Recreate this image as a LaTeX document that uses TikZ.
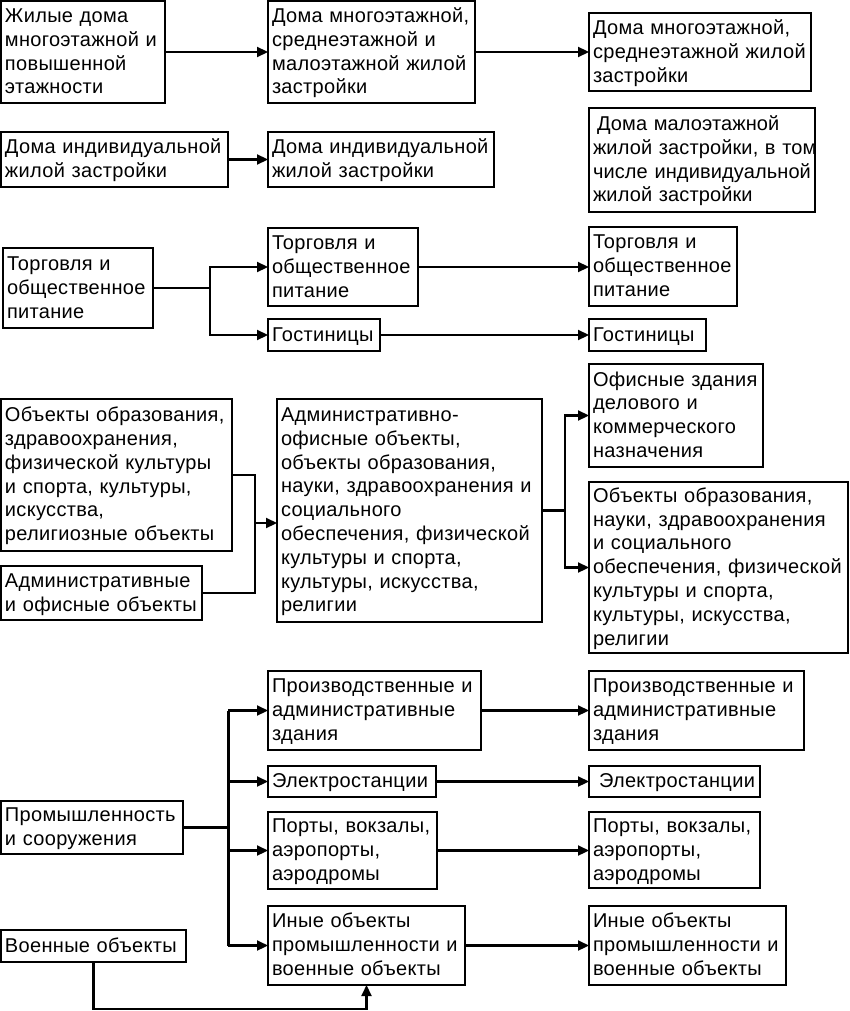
\documentclass[tikz,border=0pt]{standalone}
\usepackage{fontspec}
\setmainfont[LetterSpace=1.6]{Liberation Sans}
\usetikzlibrary{arrows.meta,calc}
\newcommand\tl[1]{\raisebox{-1.5pt}[\height][\depth]{\begin{tabular}{@{}l@{}}#1\end{tabular}}}
\begin{document}
\begin{tikzpicture}[x=1pt,y=-1pt,
  box/.style={draw, line width=2.2pt, anchor=north west, outer sep=0pt, inner xsep=4pt, inner ysep=0pt, align=left,
    font=\fontsize{20}{23.8}\selectfont},
  arr/.style={line width=2.2pt, -{Triangle[length=11pt,width=10pt]}},
  ln/.style={line width=2.2pt}]
\useasboundingbox (0,0) rectangle (849,1011);
% row A
\node[box,text width=156pt,minimum height=102pt] (a1) at (1,1) {\tl{Жилые дома\\многоэтажной и\\повышенной\\этажности}};
\node[box,text width=199pt,minimum height=102pt] (a2) at (268,1) {\tl{Дома многоэтажной,\\среднеэтажной и\\малоэтажной жилой\\застройки}};
\node[box,text width=214pt,minimum height=78pt] (a3) at (589,13) {\tl{Дома многоэтажной,\\среднеэтажной жилой\\застройки}};
% row B
\node[box,text width=219pt,minimum height=55pt] (b1) at (1,132) {\tl{Дома индивидуальной\\жилой застройки}};
\node[box,text width=218pt,minimum height=55pt] (b2) at (268,132) {\tl{Дома индивидуальной\\жилой застройки}};
\node[box,text width=218pt,minimum height=104pt,font=\fontsize{20}{23.8}\selectfont\addfontfeature{LetterSpace=0.6}] (b3) at (589,108) {\tl{\hspace{4pt}Дома малоэтажной\\жилой застройки, в том\\числе индивидуальной\\жилой застройки}};
% row C
\node[box,text width=142pt,minimum height=80pt] (c1) at (3,248) {\tl{Торговля и\\общественное\\питание}};
\node[box,text width=142pt,minimum height=78pt] (c2) at (268,228) {\tl{Торговля и\\общественное\\питание}};
\node[box,text width=104pt,minimum height=32pt] (c3) at (268,319) {\tl{Гостиницы}};
\node[box,text width=140pt,minimum height=79pt] (c4) at (589,227) {\tl{Торговля и\\общественное\\питание}};
\node[box,text width=109pt,minimum height=32pt] (c5) at (589,319) {\tl{Гостиницы}};
% row D
\node[box,text width=223pt,minimum height=152pt] (d1) at (1,399) {\tl{Объекты образования,\\здравоохранения,\\физической культуры\\и спорта, культуры,\\искусства,\\религиозные объекты}};
\node[box,text width=193pt,minimum height=54pt] (d2) at (1,566) {\tl{Административные\\и офисные объекты}};
\node[box,text width=257pt,minimum height=223pt] (d3) at (277,399) {\tl{Административно-\\офисные объекты,\\объекты образования,\\науки, здравоохранения и\\социального\\обеспечения, физической\\культуры и спорта,\\культуры, искусства,\\религии}};
\node[box,text width=166pt,minimum height=103pt] (d4) at (589,364) {\tl{Офисные здания\\делового и\\коммерческого\\назначения}};
\node[box,text width=251pt,minimum height=171pt] (d5) at (589,482) {\tl{Объекты образования,\\науки, здравоохранения\\и социального\\обеспечения, физической\\культуры и спорта,\\культуры, искусства,\\религии}};
% row E
\node[box,text width=174pt,minimum height=53pt] (e1) at (1,801) {\tl{Промышленность\\и сооружения}};
\node[box,text width=205pt,minimum height=79pt] (e2) at (268,671) {\tl{Производственные и\\административные\\здания}};
\node[box,text width=160pt,minimum height=31pt] (e3) at (268,766) {\tl{Электростанции}};
\node[box,text width=161pt,minimum height=77pt] (e4) at (268,812) {\tl{Порты, вокзалы,\\аэропорты,\\аэродромы}};
\node[box,text width=189pt,minimum height=79pt] (e5) at (268,906) {\tl{Иные объекты\\промышленности и\\военные объекты}};
\node[box,text width=177pt,minimum height=32pt] (e6) at (1,930) {\tl{Военные объекты}};
\node[box,text width=207pt,minimum height=79pt] (f2) at (589,671) {\tl{Производственные и\\административные\\здания}};
\node[box,text width=163pt,minimum height=31pt] (f3) at (589,766) {\tl{\hspace{6pt}Электростанции}};
\node[box,text width=163pt,minimum height=76pt] (f4) at (589,812) {\tl{Порты, вокзалы,\\аэропорты,\\аэродромы}};
\node[box,text width=189pt,minimum height=79pt] (f5) at (589,906) {\tl{Иные объекты\\промышленности и\\военные объекты}};
% connectors A, B
\draw[arr] (a1) -- (a2);
\draw[arr] (a2) -- (a3);
\draw[arr] (b1) -- (b2);
% C
\coordinate (cj) at (210,288);
\draw[ln] (c1.east) -- (cj |- c1.east);
\draw[arr] (cj |- c1.east) |- (c2.west);
\draw[arr] (cj |- c1.east) |- (c3.west);
\draw[arr] (c2.east) -- (c4.west |- c2.east);
\draw[arr] (c3) -- (c5);
% D
\coordinate (dj) at (255,523);
\draw[ln] (d1.east) -| (dj |- d2.east) -- (d2.east);
\draw[arr] (dj) -- (d3.west |- dj);
\coordinate (dk) at (565,510);
\draw[ln] (d3.east) -- (dk |- d3.east);
\draw[arr] (dk |- d3.east) |- (d4.west);
\draw[arr] (dk |- d3.east) |- (d5.west);
% E
\coordinate (ej) at (228,827);
\draw[ln] (e1.east) -- (ej |- e1.east);
\draw[line width=3pt] (ej |- e2.west) -- (ej |- e5.west);
\draw[arr] (ej |- e2.west) -- (e2.west);
\draw[arr] (ej |- e3.west) -- (e3.west);
\draw[arr] (ej |- e4.west) -- (e4.west);
\draw[arr] (ej |- e5.west) -- (e5.west);
\draw[arr] (e2) -- (f2);
\draw[arr] (e3) -- (f3);
\draw[arr] (e4.east) -- (f4.west |- e4.east);
\draw[arr] (e5) -- (f5);
\coordinate (eb) at (0,1009);
\draw[arr] (e6.south) -- (e6.south |- eb) -| (e5.south);
\end{tikzpicture}
\end{document}
